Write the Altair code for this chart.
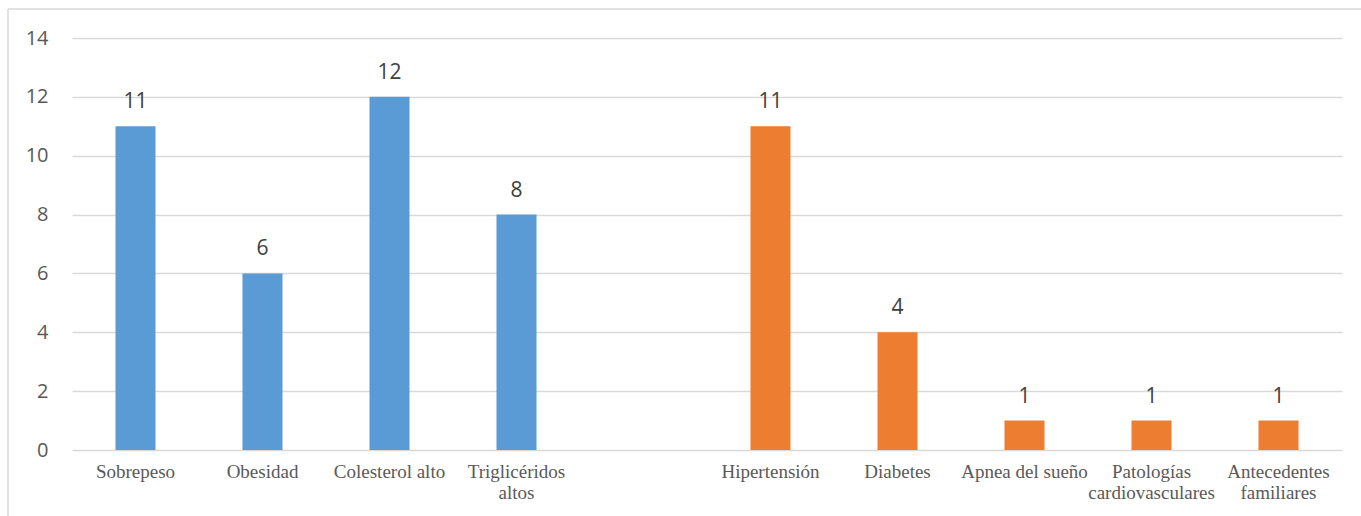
import altair as alt
import pandas as pd

# Risk factors (blue) and comorbidities (orange); a blank slot separates the groups
categories = ["Sobrepeso", "Obesidad", "Colesterol alto", "Triglicéridos|altos", " ",
              "Hipertensión", "Diabetes", "Apnea del sueño", "Patologías|cardiovasculares",
              "Antecedentes|familiares"]
values = [11, 6, 12, 8, None, 11, 4, 1, 1, 1]
groups = ["factor", "factor", "factor", "factor", "gap",
          "comorbilidad", "comorbilidad", "comorbilidad", "comorbilidad", "comorbilidad"]
y_ticks = [0, 2, 4, 6, 8, 10, 12, 14]

df = pd.DataFrame({"categoria": categories, "valor": values, "grupo": groups})
bars_df = df[df["grupo"] != "gap"]

x_enc = alt.X(
    "categoria:N",
    sort=categories,
    scale=alt.Scale(domain=categories, paddingInner=0.685, paddingOuter=0.3425),
    axis=alt.Axis(
        title=None, labelAngle=0, ticks=False, domain=False,
        labelFont="Liberation Serif", labelFontSize=19, labelColor="#595959",
        labelPadding=12, labelLineHeight=21,
        labelExpr="split(datum.label, '|')",
    ),
)
y_enc = alt.Y(
    "valor:Q",
    scale=alt.Scale(domain=[0, 14], nice=False),
    axis=alt.Axis(
        title=None, values=y_ticks, ticks=False, domain=False,
        grid=True, gridColor="#d9d9d9", gridWidth=1.5,
        labelFont="Open Sans", labelFontSize=20, labelColor="#595959",
        labelPadding=24,
    ),
)

bars = alt.Chart(bars_df).mark_bar().encode(
    x=x_enc,
    y=y_enc,
    color=alt.Color(
        "grupo:N",
        scale=alt.Scale(domain=["factor", "comorbilidad"], range=["#5b9bd5", "#ed7d31"]),
        legend=None,
    ),
)

labels = alt.Chart(bars_df).mark_text(
    baseline="alphabetic", dy=-18, font="Open Sans", fontSize=21, color="#404040"
).encode(
    x=alt.X("categoria:N", sort=categories),
    y="valor:Q",
    text=alt.Text("valor:Q", format="d"),
)

frame_df = pd.DataFrame({"k": [0]})
frame_left = alt.Chart(frame_df).mark_rule(color="#d9d9d9", strokeWidth=1.5).encode(
    x=alt.value(-64), y=alt.value(-29), y2=alt.value(480)
)
frame_top = alt.Chart(frame_df).mark_rule(color="#d9d9d9", strokeWidth=1.5).encode(
    x=alt.value(-64), x2=alt.value(1300), y=alt.value(-29)
)

chart = alt.layer(bars, labels, frame_left, frame_top).properties(
    width=1270,
    height=412,
    padding={"left": 72, "top": 38, "right": 19, "bottom": 66},
    autosize=alt.AutoSizeParams(type="none"),
    background="white",
).configure_view(stroke=None)

chart.save("out.html", embed_options={"renderer": "svg", "actions": False})
